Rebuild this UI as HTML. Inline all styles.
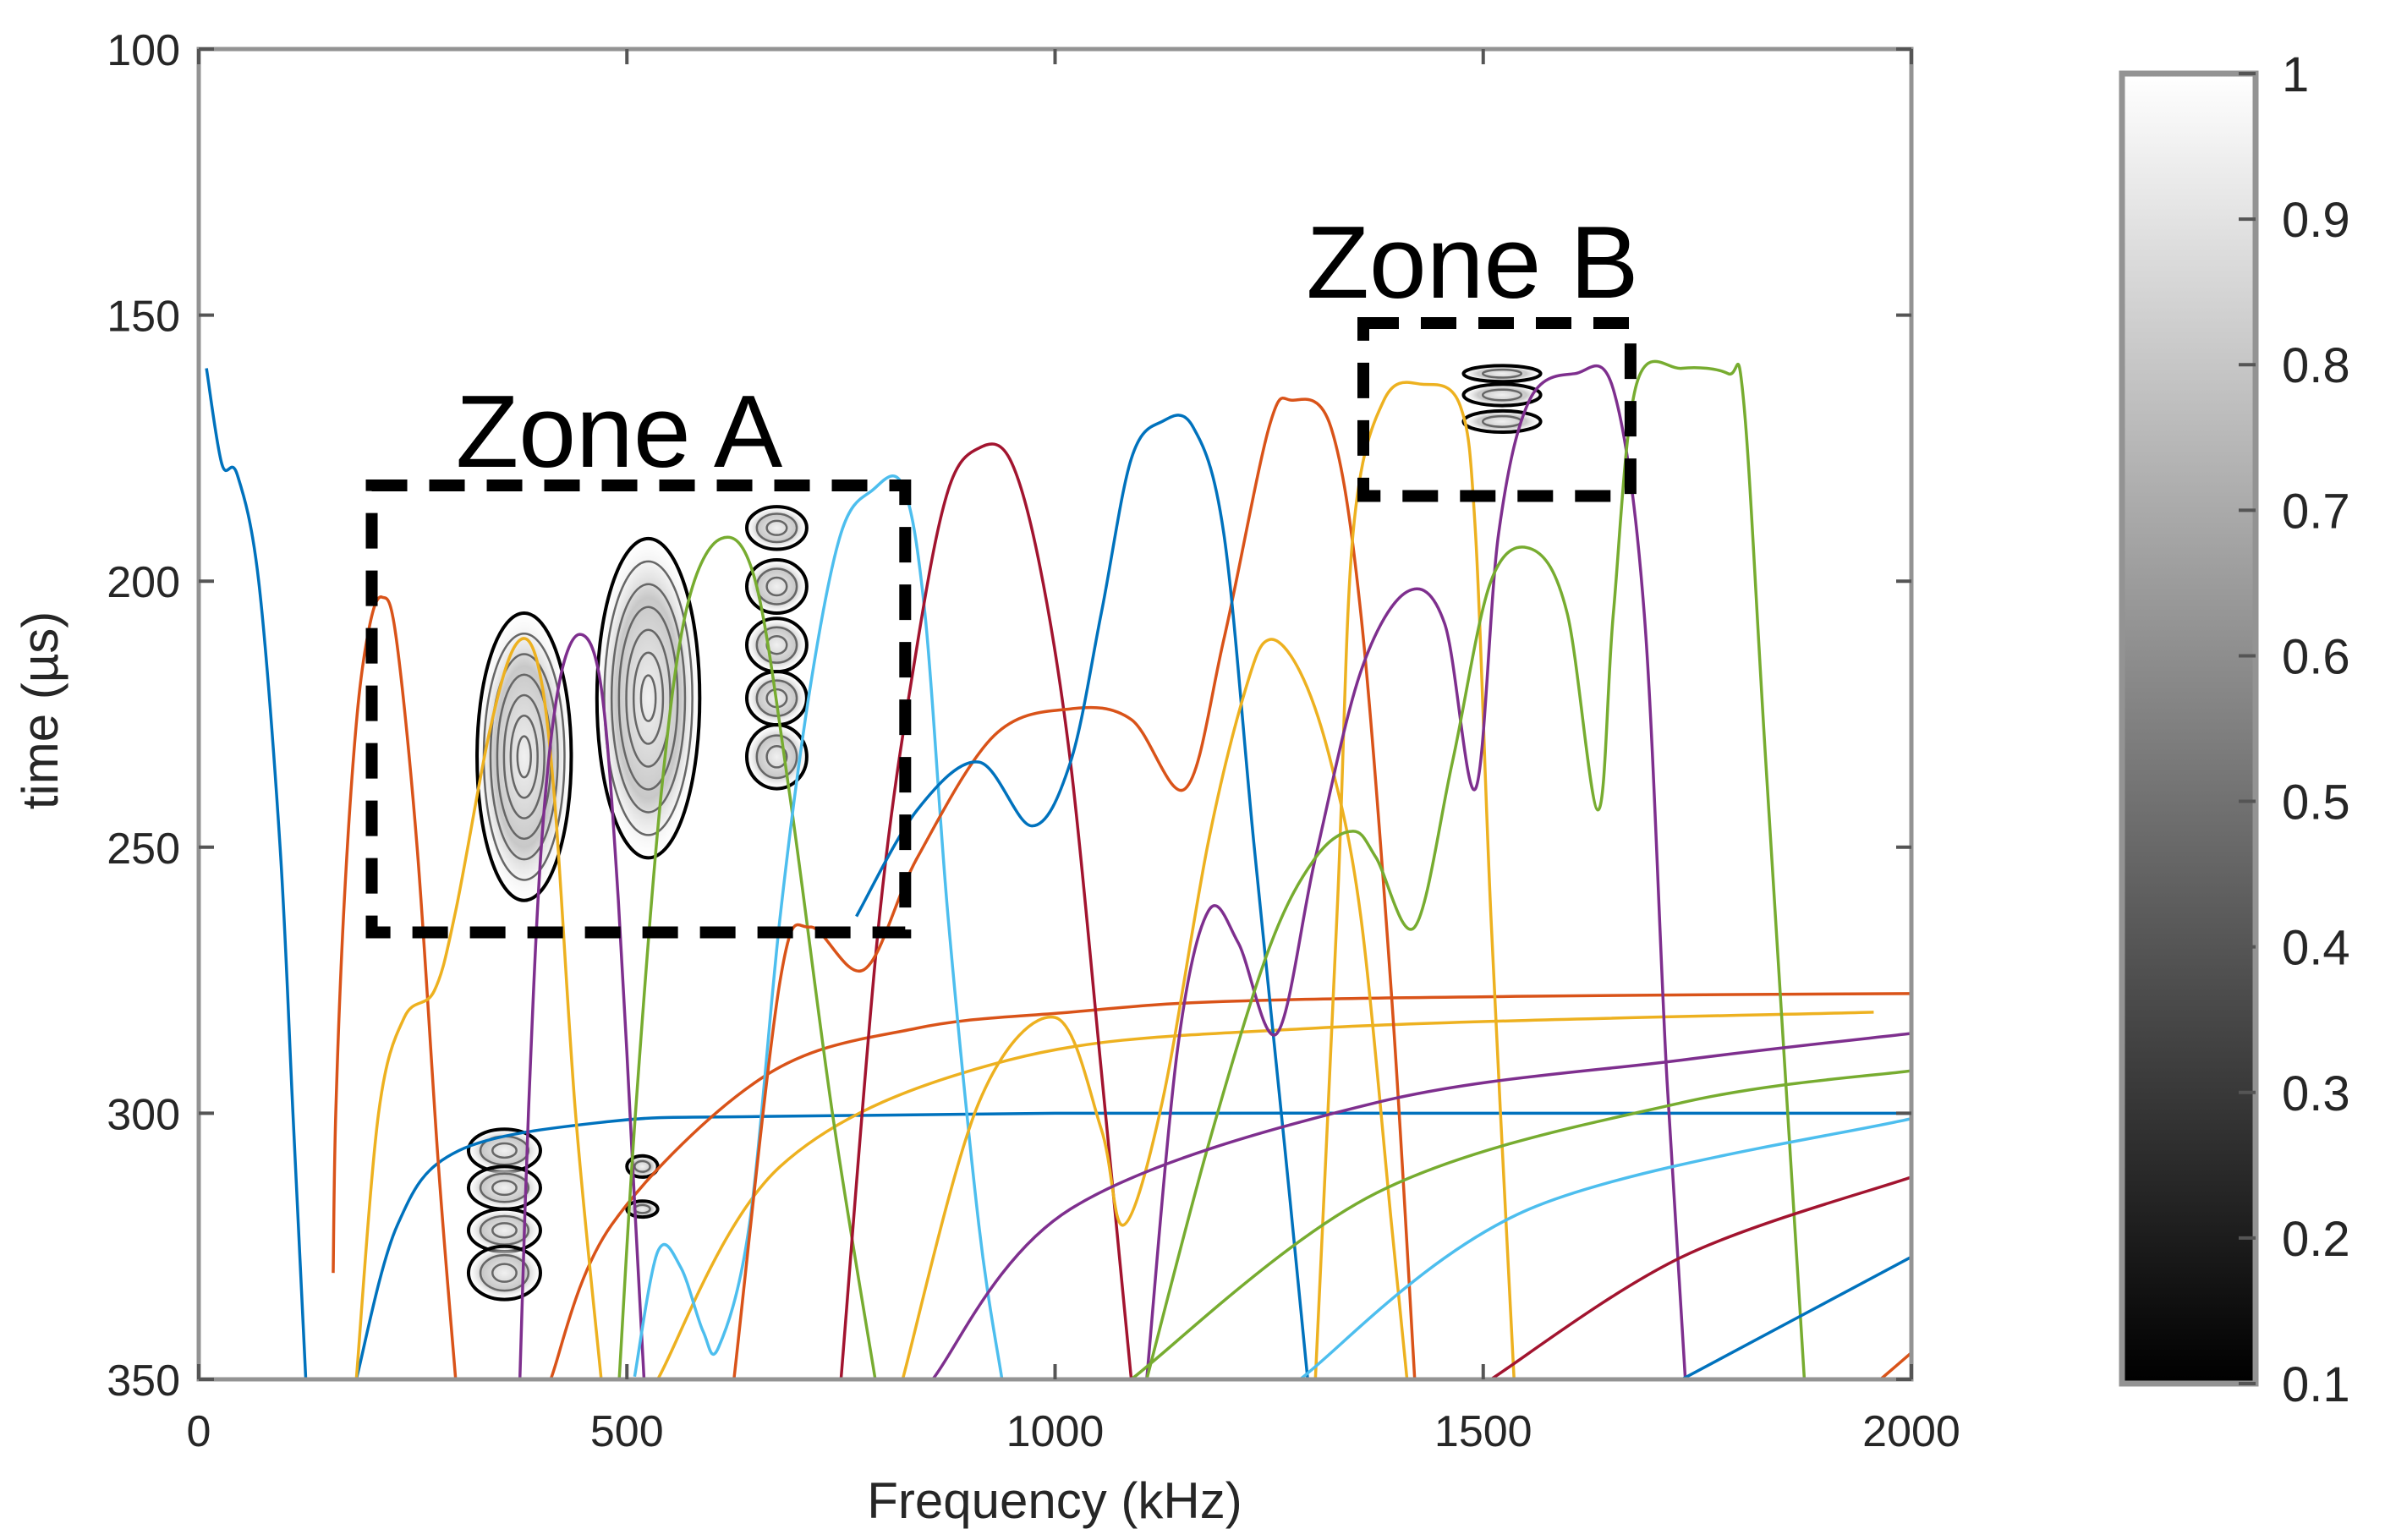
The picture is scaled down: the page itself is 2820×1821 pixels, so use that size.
<!DOCTYPE html>
<html><head><meta charset="utf-8"><style>
html,body{margin:0;padding:0;background:#fff;}
svg{display:block;font-family:"Liberation Sans",sans-serif;}
</style></head><body>
<svg id="chart" width="2820" height="1821" viewBox="0 0 2820 1821" xmlns="http://www.w3.org/2000/svg">
<defs>
<linearGradient id="cbgrad" x1="0" y1="0" x2="0" y2="1"><stop offset="0" stop-color="#ffffff"/><stop offset="1" stop-color="#000000"/></linearGradient>
<radialGradient id="blob" cx="0.5" cy="0.5" r="0.5"><stop offset="0" stop-color="#f0f0f0"/><stop offset="0.6" stop-color="#c8c8c8"/><stop offset="1" stop-color="#ffffff" stop-opacity="0"/></radialGradient>
</defs>
<g id="plot"></g>
</svg>
<script>
const xTicks=[0,500,1000,1500,2000];
const yTicks=[100,150,200,250,300,350];
const cbTicks=[1,0.9,0.8,0.7,0.6,0.5,0.4,0.3,0.2,0.1];
const blue1F=[9,27,45,70,95,110,125];
const blue1T=[160,178,180,200,250,300,350];
const blue2F=[184,232,304,482,661,1000,1500,2000];
const blue2T=[350,321,307,301.5,300.6,300,300,300];
const orange1F=[157,160,170,185,200,214,230,255,280,300];
const orange1T=[330,300,260,225,208,203,210,250,310,350];
const orange2F=[411,482,661,839,1018,1196,1554,2000];
const orange2T=[350,321,293,284,281,279,278,277.5];
const yellow1F=[184,210,240,275,300,340,370,395,415,440,470];
const yellow1T=[350,300,282,277,262,228,212,215,240,300,350];
const yellow2F=[536,679,946,1304,1956];
const yellow2T=[350,310,290,284,281];
const purple1F=[375,385,400,420,445,470,490,510,520];
const purple1T=[350,300,250,220,210,220,260,320,350];
const green1F=[491,510,540,570,610,650,690,740,790];
const green1T=[350,300,240,205,192,200,240,300,350];
const lblue1F=[509,536,563,589,607,643,679,714,750,786,822,848,875,911,938];
const lblue1T=[349.5,326,329,341,344,321,263,220,191,183,182,206,263,321,350];
const red1F=[750,795,839,875,911,947,982,1018,1054,1089];
const red1T=[350,263,212,183,175,177,197,234,292,350];
const orange3F=[625,679,714,777,839,929,1018,1089,1152,1197,1250,1277,1322,1357,1393,1420];
const orange3T=[350,275,265,273,252,229,224,226,239,211,171,166,171,206,278,350];
const blue3F=[768,839,911,973,1018,1054,1089,1125,1161,1197,1232,1268,1295];
const blue3T=[263,243,234,246,234,206,177,170,171,191,249,306,350];
const yellow3F=[822,911,1000,1054,1080,1125,1179,1223,1250,1286,1322,1357,1393,1411];
const yellow3T=[350,298,282,303,321,298,249,220,211,217,234,263,321,350];
const yellow4F=[1304,1330,1348,1384,1429,1473,1491,1509,1536];
const yellow4T=[350,260,191,166,163,167,191,263,350];
const purple2F=[1107,1143,1179,1214,1259,1304,1357,1411,1455,1491,1518,1554,1607,1652,1688,1714,1736];
const purple2T=[350,288,262,268,285,252,217,202,208,239,191,166,161,164,206,292,350];
const green2F=[1107,1179,1250,1304,1348,1375,1420,1464,1509,1557,1598,1634,1652,1679,1732,1786,1804,1830,1875];
const green2T=[350,306,269,252,247,252,265,234,200,194,206,243,206,163,160,161,166,234,350];
const purple3F=[857,1018,1375,1732,2000];
const purple3T=[350,318,298,290,285];
const green3F=[1089,1375,1732,2000];
const green3T=[350,315,298,292];
const lblue2F=[1286,1554,2000];
const lblue2T=[350,318,301];
const red2F=[1509,1732,2000];
const red2T=[350,327,312];
const blue4F=[1732,2000];
const blue4T=[350,327];
const orange4F=[1964,2000];
const orange4T=[350,345];
// contour blobs: center f, center t, radius f, radius t, rings
const blobF=[380,525,675,675,675,675,675,357,357,357,357,518,518,1522,1522,1522];
const blobT=[233,222,190,201,212,222,233,307,314,322,330,310,318,161,165,170];
const blobRF=[55,60,35,35,35,35,35,42,42,42,42,18,18,45,45,45];
const blobRT=[27,30,4,5,5,5,6,4,4,4,5,2,1.5,1.5,2,2];
const blobRings=[7,7,3,3,3,3,3,3,3,3,3,2,2,2,2,2];

const X0=235,X1=2260,Y0=58,Y1=1631;
const xs=f=>X0+(f/2000)*(X1-X0);
const ys=t=>Y0+((t-100)/250)*(Y1-Y0);
const NS="http://www.w3.org/2000/svg";
const plot=document.getElementById('plot');
function mk(tag,attrs,parent){const e=document.createElementNS(NS,tag);for(const k in attrs)e.setAttribute(k,attrs[k]);(parent||plot).appendChild(e);return e;}

const defs=document.querySelector('defs');
const cp=mk('clipPath',{id:'clip'},defs);mk('rect',{x:X0,y:Y0,width:X1-X0,height:Y1-Y0},cp);

const cg=mk('g',{'clip-path':'url(#clip)'});


for(let i=0;i<blobF.length;i++){
  const cx=xs(blobF[i]),cy=ys(blobT[i]),rx=blobRF[i]*(X1-X0)/2000,ry=blobRT[i]*(Y1-Y0)/250;
  const f=mk('ellipse',{cx,cy,rx:rx*1.05,ry:ry*1.05,fill:'url(#blob)'},cg);
  
  
  for(let r=1;r<=blobRings[i];r++){
    const s=r/blobRings[i];
    const e=mk('ellipse',{cx,cy,rx:rx*s,ry:ry*s,fill:'none',stroke:r===blobRings[i]?'#000':'#666',"stroke-width":r===blobRings[i]?4:2.5},cg);
    
    
  }
}

function smooth(F,T){
  const p=F.map((f,i)=>[xs(f),ys(T[i])]);
  let d='M'+p[0][0]+','+p[0][1];
  for(let i=0;i<p.length-1;i++){
    const p0=p[i-1]||p[i],p1=p[i],p2=p[i+1],p3=p[i+2]||p2;
    const c1=[p1[0]+(p2[0]-p0[0])/6,p1[1]+(p2[1]-p0[1])/6];
    const c2=[p2[0]-(p3[0]-p1[0])/6,p2[1]-(p3[1]-p1[1])/6];
    d+=` C${c1[0]},${c1[1]} ${c2[0]},${c2[1]} ${p2[0]},${p2[1]}`;
  }
  return d;
}
const series=[
 ['blue-mode-1',blue1F,blue1T,'#0072BD'],['blue-mode-2',blue2F,blue2T,'#0072BD'],
 ['orange-mode-1',orange1F,orange1T,'#D95319'],['orange-mode-2',orange2F,orange2T,'#D95319'],
 ['yellow-mode-1',yellow1F,yellow1T,'#EDB120'],['yellow-mode-2',yellow2F,yellow2T,'#EDB120'],
 ['purple-mode-1',purple1F,purple1T,'#7E2F8E'],['green-mode-1',green1F,green1T,'#77AC30'],
 ['lightblue-mode-1',lblue1F,lblue1T,'#4DBEEE'],['red-mode-1',red1F,red1T,'#A2142F'],
 ['orange-mode-3',orange3F,orange3T,'#D95319'],['blue-mode-3',blue3F,blue3T,'#0072BD'],
 ['yellow-mode-3',yellow3F,yellow3T,'#EDB120'],['yellow-mode-4',yellow4F,yellow4T,'#EDB120'],
 ['purple-mode-2',purple2F,purple2T,'#7E2F8E'],['green-mode-2',green2F,green2T,'#77AC30'],
 ['purple-mode-3',purple3F,purple3T,'#7E2F8E'],['green-mode-3',green3F,green3T,'#77AC30'],
 ['lightblue-mode-2',lblue2F,lblue2T,'#4DBEEE'],['red-mode-2',red2F,red2T,'#A2142F'],
 ['blue-mode-4',blue4F,blue4T,'#0072BD'],['orange-mode-4',orange4F,orange4T,'#D95319']
];
const lg=mk('g',{'clip-path':'url(#clip)'});
for(const s of series){
  const p=mk('path',{d:smooth(s[1],s[2]),fill:'none',stroke:s[3],'stroke-width':3.5},lg);
  
  
}

function zone(name,f0,f1,t0,t1,label,lx,ly){
  const r=mk('rect',{x:xs(f0),y:ys(t0),width:xs(f1)-xs(f0),height:ys(t1)-ys(t0),fill:'none',stroke:'#000','stroke-width':14,'stroke-dasharray':'42 26'});
  
  
  const t=mk('text',{x:lx,y:ly,'font-size':122,'text-anchor':'middle',fill:'#000'});
  t.textContent=label;
  
  
}
zone('zone-a',202,825,182,266,'Zone A',732,552);
zone('zone-b',1360,1672,151.5,184,'Zone B',1741,352);

const fr=mk('rect',{x:X0,y:Y0,width:X1-X0,height:Y1-Y0,fill:'none',stroke:'#939393','stroke-width':5});


for(const v of xTicks){
  const x=xs(v);
  mk('line',{x1:x,y1:Y1,x2:x,y2:Y1-18,stroke:'#555','stroke-width':4});
  mk('line',{x1:x,y1:Y0,x2:x,y2:Y0+18,stroke:'#555','stroke-width':4});
  const t=mk('text',{x:x,y:1710,'font-size':52,'text-anchor':'middle',fill:'#262626'});t.textContent=v;
  
  
}
for(const v of yTicks){
  const y=ys(v);
  mk('line',{x1:X0,y1:y,x2:X0+18,y2:y,stroke:'#555','stroke-width':4});
  mk('line',{x1:X1,y1:y,x2:X1-18,y2:y,stroke:'#555','stroke-width':4});
  const t=mk('text',{x:213,y:y+19,'font-size':52,'text-anchor':'end',fill:'#262626'});t.textContent=v;
  
  
}
const xl=mk('text',{x:1247,y:1795,'font-size':60,'text-anchor':'middle',fill:'#262626'});xl.textContent='Frequency (kHz)';


const yl=mk('text',{x:0,y:0,'font-size':60,'text-anchor':'middle',fill:'#262626',transform:'translate(68,840) rotate(-90)'});yl.textContent='time (µs)';



const CB0=87,CB1=1636,CX0=2509,CX1=2667;
const cb=mk('rect',{x:CX0,y:CB0,width:CX1-CX0,height:CB1-CB0,fill:'url(#cbgrad)',stroke:'#939393','stroke-width':7});


for(const v of cbTicks){
  const y=CB0+(1-v)/0.9*(CB1-CB0);
  mk('line',{x1:CX1-20,y1:y,x2:CX1,y2:y,stroke:'#555','stroke-width':4});
  const t=mk('text',{x:2698,y:y+21,'font-size':58,fill:'#262626'});t.textContent=v;
  
  
}
</script>
</body></html>
